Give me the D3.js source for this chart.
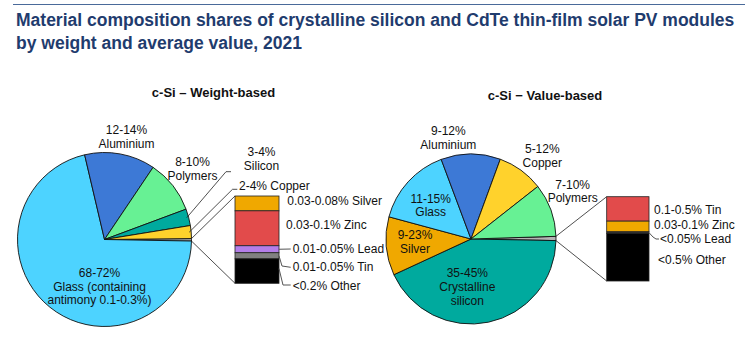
<!DOCTYPE html>
<html>
<head>
<meta charset="utf-8">
<script src="https://cdn.jsdelivr.net/npm/d3@7"></script>
<style>
  body { margin: 0; background: #fff; }
  svg text { font-family: Arial, "Liberation Sans", sans-serif; fill: #111; }
</style>
</head>
<body>
<div id="chart"></div>
<script>
// ---- data ----
const weightCats = ['Other', 'Glass', 'Aluminium', 'Polymers', 'Silicon', 'Copper'];
const weightShares = [0.45, 71.05, 13.1, 9.9, 3.1, 2.4];
const weightLabels = ['', '68-72%|Glass (containing|antimony 0.1-0.3%)', '12-14%|Aluminium', '8-10%|Polymers', '3-4%|Silicon', '2-4% Copper'];

const weightBoxCats = ['Silver', 'Zinc', 'Lead', 'Tin', 'Other'];
const weightBoxShares = [17, 40, 8, 7, 28];
const weightBoxLabels = ['0.03-0.08% Silver', '0.03-0.1% Zinc', '0.01-0.05% Lead', '0.01-0.05% Tin', '<0.2% Other'];

const valueCats = ['Other', 'Crystalline silicon', 'Silver', 'Glass', 'Aluminium', 'Copper', 'Polymers'];
const valueShares = [0.8, 42.8, 11.1, 15.1, 11.3, 8.8, 10.1];
const valueLabels = ['', '35-45%|Crystalline|silicon', '9-23%|Silver', '11-15%|Glass', '9-12%|Aluminium', '5-12%|Copper', '7-10%|Polymers'];

const valueBoxCats = ['Tin', 'Zinc', 'Lead', 'Other'];
const valueBoxShares = [29, 12.7, 1.9, 56.4];
const valueBoxLabels = ['0.1-0.5% Tin', '0.03-0.1% Zinc', '<0.05% Lead', '<0.5% Other'];

const colors = {
    'Other': '#b4b4b4', 'Glass': '#4dd3ff', 'Aluminium': '#3d79d6', 'Polymers': '#67f194',
    'Silicon': '#00aa9e', 'Crystalline silicon': '#00aa9e', 'Copper': '#ffd22c', 'Silver': '#f0a800'
};
const boxColors = { 'Silver': '#f0a800', 'Zinc': '#e24b4b', 'Lead': '#b47ee9', 'Tin': '#808080', 'Other': '#000000' };
const rightBoxColors = { 'Tin': '#e24b4b', 'Zinc': '#f0a800', 'Lead': '#333333', 'Other': '#000000' };

const width = 755, height = 348;
const svg = d3.select('#chart').append('svg').attr('width', width).attr('height', height);

// title
svg.append('line').attr('x1', 13).attr('x2', 745).attr('y1', 4.5).attr('y2', 4.5)
    .attr('stroke', '#4a6a9a').attr('stroke-width', 1.2);
const title = svg.append('text').attr('x', 16).attr('y', 26)
    .style('font-size', '17.5px').style('font-weight', 'bold').style('fill', '#1f3c6e');
title.append('tspan').attr('x', 16).text('Material composition shares of crystalline silicon and CdTe thin-film solar PV modules');
title.append('tspan').attr('x', 16).attr('y', 49).text('by weight and average value, 2021');

function multiLine(g, txt, x, y, anchor, lh) {
    const lines = txt.split('|');
    const t = g.append('text').attr('text-anchor', anchor).style('font-size', '12px');
    lines.forEach((l, i) => {
        t.append('tspan').attr('x', x).attr('y', y + i * lh).attr('dy', '0.35em').text(l);
    });
}

function drawPieOfBar(opt) {
    const g = svg.append('g').attr('transform', `translate(${opt.cx},${opt.cy})`);
    const pie = d3.pie().sort(null).value(d => d.v)
        .startAngle(opt.start).endAngle(opt.start + 2 * Math.PI);
    const arcs = pie(opt.cats.map((c, i) => ({ c: c, v: opt.shares[i], label: opt.labels[i] })));
    const arc = d3.arc().innerRadius(0).outerRadius(opt.r);

    g.selectAll('path').data(arcs).enter().append('path')
        .attr('d', arc).attr('fill', d => colors[d.data.c])
        .attr('stroke', '#111').attr('stroke-width', 0.9);

    // slice labels
    arcs.forEach((a, i) => {
        const p = opt.labelPos[i];
        if (!p || !a.data.label) return;
        multiLine(g, a.data.label, p[0], p[1], p[2] || 'middle', 13.8);
        if (p[3]) {
            // leader line from slice edge
            const mid = (a.startAngle + a.endAngle) / 2;
            const sx = Math.sin(mid) * (opt.r - 2), sy = -Math.cos(mid) * (opt.r - 2);
            g.append('polyline').attr('fill', 'none').attr('stroke', '#222').attr('stroke-width', 0.8)
                .attr('points', [[sx, sy]].concat(p[3]).map(q => q.join(',')).join(' '));
        }
    });

    // bar of pie
    const other = arcs[0];
    const bx = opt.box.x, bw = opt.box.w;
    const y = d3.scaleLinear().domain([0, d3.sum(opt.boxShares)]).range([opt.box.top, opt.box.bottom]);
    let acc = 0;
    const stack = opt.boxCats.map((c, i) => {
        const s = { c: c, y0: acc, y1: acc + opt.boxShares[i], label: opt.boxLabels[i] };
        acc += opt.boxShares[i];
        return s;
    });

    const p1 = [Math.sin(other.startAngle) * opt.r, -Math.cos(other.startAngle) * opt.r];
    const p2 = [Math.sin(other.endAngle) * opt.r, -Math.cos(other.endAngle) * opt.r];
    g.append('line').attr('x1', p1[0]).attr('y1', p1[1]).attr('x2', bx).attr('y2', y(0))
        .attr('stroke', '#222').attr('stroke-width', 0.8);
    g.append('line').attr('x1', p2[0]).attr('y1', p2[1]).attr('x2', bx).attr('y2', y(acc))
        .attr('stroke', '#222').attr('stroke-width', 0.8);

    g.selectAll('rect.box').data(stack).enter().append('rect').attr('class', 'box')
        .attr('x', bx).attr('width', bw)
        .attr('y', d => y(d.y0)).attr('height', d => y(d.y1) - y(d.y0))
        .attr('fill', d => opt.boxColors[d.c]).attr('stroke', '#222').attr('stroke-width', 0.8);

    stack.forEach((s, i) => {
        const p = opt.boxLabelPos[i];
        g.append('text').attr('x', p[0]).attr('y', p[1]).attr('dy', '0.35em')
            .style('font-size', '12px').text(s.label);
        if (p[2]) {
            const sy = (y(s.y0) + y(s.y1)) / 2;
            g.append('polyline').attr('fill', 'none').attr('stroke', '#555').attr('stroke-width', 1)
                .attr('points', [[bx + bw, p[2] === 'mid' ? sy : y(s.y0) + (y(s.y1) - y(s.y0)) * 0.4]]
                    .concat(p[3]).map(q => q.join(',')).join(' '));
        }
    });

    svg.append('text').attr('x', opt.titleX).attr('y', opt.titleY).attr('text-anchor', 'middle')
        .style('font-size', '13px').style('font-weight', 'bold').text(opt.title);
}

// weight-based pie (positions relative to center)
drawPieOfBar({
    cx: 104.5, cy: 239.5, r: 87, start: 89.4 * Math.PI / 180,
    cats: weightCats, shares: weightShares, labels: weightLabels,
    labelPos: [
        null,
        [-5, 33],
        [22, -110],
        [88, -78],
        [157, -88, 'middle', [[121.5, -67.8], [126.5, -67.8]]],
        [134.5, -53.8, 'start', [[128, -50.2], [132.8, -50.2]]]
    ],
    boxCats: weightBoxCats, boxShares: weightBoxShares, boxLabels: weightBoxLabels,
    boxColors: boxColors,
    box: { x: 130.5, w: 44, top: -43.5, bottom: 43.8 },
    boxLabelPos: [
        [182.8, -38.5],
        [181.5, -14.5],
        [188.2, 9.5, 'mid', [[186.2, 9.5]]],
        [188.2, 27.2, 'mid', [[177.5, 26.5], [186.2, 27.8]]],
        [188.2, 46.2, 'top', [[178.5, 45.5], [186.2, 45.5]]]
    ],
    title: 'c-Si \u2013 Weight-based', titleX: 213.5, titleY: 97
});

// value-based pie
drawPieOfBar({
    cx: 471, cy: 239, r: 85, start: 88.2 * Math.PI / 180,
    cats: valueCats, shares: valueShares, labels: valueLabels,
    labelPos: [
        null,
        [-3.7, 33.7],
        [-56, -4],
        [-40.3, -40.7],
        [-22.7, -108],
        [71.3, -90],
        [101.7, -54.7]
    ],
    boxCats: valueBoxCats, boxShares: valueBoxShares, boxLabels: valueBoxLabels,
    boxColors: rightBoxColors,
    box: { x: 135.7, w: 42.3, top: -42.3, bottom: 42 },
    boxLabelPos: [
        [183, -29.5],
        [183, -14.5],
        [189, 0, 'mid', [[182, -2], [185, 0], [188, 0]]],
        [187, 21]
    ],
    title: 'c-Si \u2212 Value-based', titleX: 545, titleY: 100
});
</script>
</body>
</html>
